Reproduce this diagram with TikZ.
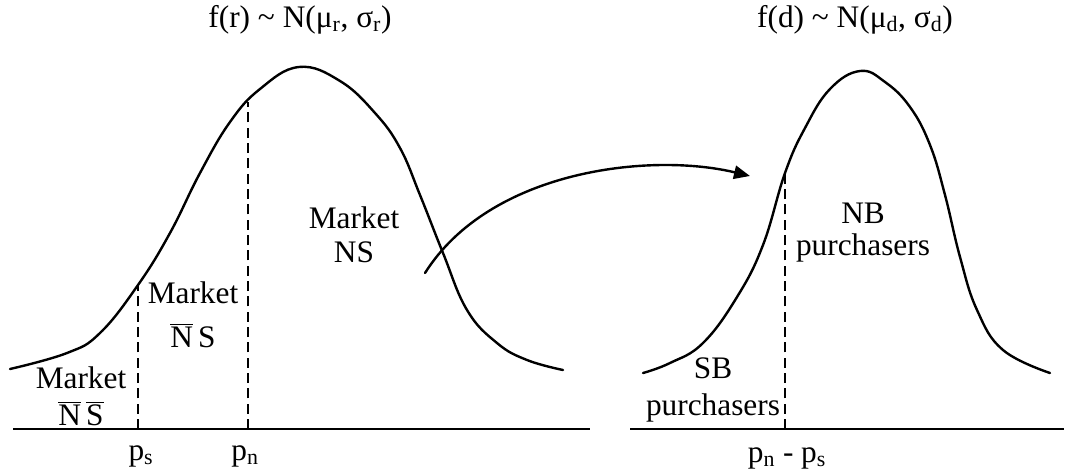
\documentclass[tikz,border=0pt]{standalone}
\usepackage{fontspec}
\setmainfont{Liberation Serif}
\usetikzlibrary{arrows.meta}
\newcommand\ob[1]{\ensuremath{\overline{\hbox{#1}}}}
\begin{document}
\begin{tikzpicture}[x=0.75pt,y=-0.75pt,
  curve/.style={line width=1.8pt, line cap=round, line join=round},
  axis/.style={line width=2pt},
  cut/.style={line width=1.6pt, dash pattern=on 7.5pt off 4pt},
  lbl/.style={font=\fontsize{23.5}{#1}\selectfont, inner sep=0pt, align=center, anchor=base},
  lbl/.default=27
]
\useasboundingbox (0,0) rectangle (1066,475);
% axes
\coordinate (LA0) at (13,429);
\coordinate (LA1) at (590,429);
\coordinate (RA0) at (630,429);
\coordinate (RA1) at (1064,429);
\draw[axis] (LA0) -- (LA1);
\draw[axis] (RA0) -- (RA1);
% left density
\draw[curve] plot[smooth, tension=0.7] coordinates {(10,369) (67,353) (100,333) (138,285) (170,233) (200,173) (230,122) (260,89) (299,67) (340,81) (375,113) (400,148) (420,195) (443,253) (467,310) (497,343) (527,360) (563,370)};
% right density
\draw[curve] plot[smooth, tension=0.7] coordinates {(643,373) (670,363) (703,343) (737,297) (763,245) (785,173) (805,128) (830,89) (860,71) (885,82) (910,107) (930,145) (945,195) (960,257) (977,310) (1003,350) (1050,373)};
% cut-offs
\coordinate (ps0) at (138,429); \coordinate (ps1) at (138,285);
\coordinate (pn0) at (248,429); \coordinate (pn1) at (248,102);
\coordinate (pd0) at (785,429); \coordinate (pd1) at (785,173);
\draw[cut] (ps0) -- (ps1);
\draw[cut] (pn0) -- (pn1);
\draw[cut] (pd0) -- (pd1);
% arrow
\coordinate (arS) at (425,273);
\coordinate (arE) at (750,176);
\draw[curve, -{Triangle[length=12pt,width=10pt]}] (arS) .. controls (490,170) and (650,152) .. (arE);
% titles
\node[lbl] (t1) at (300,27) {f(r) \textasciitilde{} N(μ\textsubscript{r}, σ\textsubscript{r})};
\node[lbl] (t2) at (855,27) {f(d) \textasciitilde{} N(μ\textsubscript{d}, σ\textsubscript{d})};
% market labels (base = last line)
\node[lbl=27.75] (m1) at (81,425) {Market\\\ob{N}\,\ob{S}};
\node[lbl=33] (m2) at (193,347) {Market\\\ob{N}\,S};
\node[lbl=25.5] (m3) at (354,262) {Market\\NS};
\node[lbl=24] (nb) at (863,255) {NB\\purchasers};
\node[lbl=27.75] (sb) at (713,415) {SB\\purchasers};
% axis labels
\node[lbl] (lps) at (141,460) {p\textsubscript{s}};
\node[lbl] (lpn) at (245,460) {p\textsubscript{n}};
\node[lbl] (lpd) at (787,462) {p\textsubscript{n} - p\textsubscript{s}};
\end{tikzpicture}
\end{document}
